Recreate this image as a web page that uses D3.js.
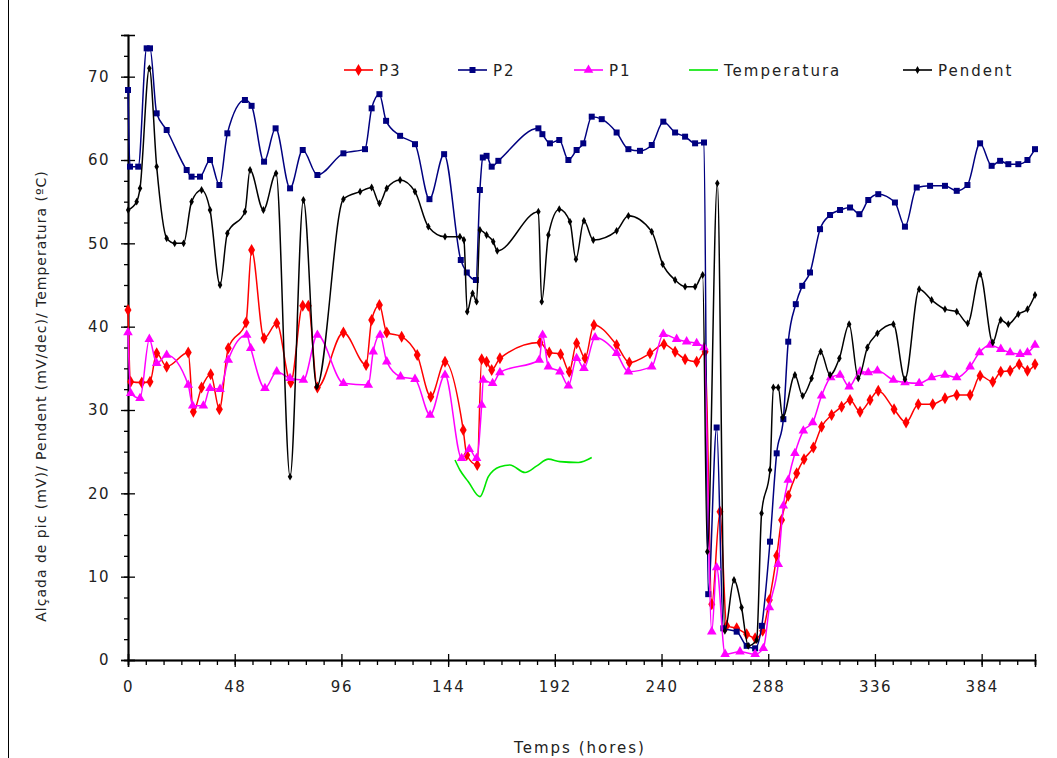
<!DOCTYPE html>
<html>
<head>
<meta charset="utf-8">
<script src="https://cdn.jsdelivr.net/npm/d3@7"></script>
<style>
body { margin: 0; background: #fff; }
svg text { font-family: "DejaVu Sans", Verdana, sans-serif; fill: #222; }
</style>
</head>
<body>
<svg id="chart"></svg>
<script>
var width = 1057;
var height = 758;
var margins = { left: 128, right: 22, top: 35, bottom: 98 };

// hours and values for each series
var p3Time = [0,1.2,6.2,9.9,12.9,17.4,27.1,29.4,33.1,37.2,41.1,45.1,53.1,55.6,61.2,66.9,73.2,78.6,81.1,85.2,96.9,107.1,109.6,113.1,116.4,123.1,130.1,136.2,142.6,150.8,152.4,157.1,159.1,161.3,163.6,167.3,185.3,189.5,194.6,198.5,201.8,205.6,209.6,219.8,225.5,234.8,241.1,246.1,250.6,255.8,259.6,262.6,266.3,269.3,273.8,278.3,282.1,285.5,288.5,291.8,294.0,297.0,300.8,304.1,308.3,312.0,316.5,321.0,324.8,329.3,333.8,337.5,344.6,350.0,355.5,362.0,367.5,372.8,378.8,383.3,389.0,392.6,396.8,400.9,404.6,408];
var p3Val = [42.0,33.4,33.3,33.4,36.8,35.2,36.9,29.8,32.7,34.3,30.1,37.4,40.5,49.2,38.6,40.4,33.3,42.5,42.5,32.7,39.3,35.4,40.8,42.6,39.3,38.8,36.6,31.6,35.8,27.6,24.6,23.4,36.1,35.8,34.8,36.2,38.1,36.9,36.7,34.6,38.0,36.2,40.2,37.8,35.7,36.8,37.9,37.0,36.1,35.8,37.0,6.7,17.8,4.1,3.8,3.1,2.6,3.5,7.2,12.5,16.8,19.7,22.4,24.1,25.5,28.0,29.4,30.4,31.2,29.8,31.2,32.3,30.1,28.5,30.7,30.7,31.4,31.8,31.8,34.1,33.4,34.6,34.7,35.5,34.7,35.5];

var p2Time = [0,0.9,4.6,8.4,9.9,12.9,17.4,26.4,28.6,32.4,36.9,41.1,44.7,52.6,55.6,61.2,66.4,72.9,78.6,85.2,96.9,106.6,109.6,113.1,116.1,122.4,129.1,135.6,142.2,149.7,152.4,156.5,158.3,159.6,161.3,163.6,166.6,184.6,186.4,189.8,194.0,198.1,201.8,204.8,208.6,213.1,219.8,225.1,230.3,235.6,240.8,246.1,250.6,255.1,259.1,261.0,264.8,267.8,273.8,278.3,282.1,285.1,288.8,291.8,294.8,297.0,300.4,303.3,306.8,311.3,315.8,320.3,324.8,329.0,333.0,337.5,345.0,349.5,354.8,360.8,367.5,372.8,377.6,383.3,388.5,392.3,396.0,400.5,404.6,408];
var p2Val = [68.4,59.2,59.2,73.4,73.4,65.6,63.6,58.8,58.0,58.0,60.0,57.0,63.2,67.2,66.5,59.8,63.8,56.6,61.2,58.2,60.8,61.3,66.2,67.9,64.7,62.9,61.9,55.3,60.7,48.0,46.5,45.6,56.4,60.3,60.5,59.2,59.9,63.8,63.1,62.0,62.4,60.0,61.2,62.0,65.2,64.9,63.3,61.3,61.1,61.8,64.6,63.3,62.8,62.0,62.1,7.9,27.9,3.8,3.4,1.7,1.4,4.1,14.2,24.8,28.9,38.2,42.7,44.9,46.5,51.7,53.4,54.0,54.3,53.5,55.2,55.9,54.9,52.0,56.7,56.9,56.9,56.3,57.0,62.0,59.3,59.9,59.5,59.5,60.0,61.3];

var p1Time = [0,1.2,5.4,9.6,12.9,17.4,27.1,29.1,33.9,36.9,41.4,45.1,53.4,55.2,61.6,66.9,72.9,78.9,85.2,96.9,108.1,110.3,113.4,116.4,122.6,129.1,135.9,142.6,150.1,153.5,156.8,159.1,159.8,164.0,167.3,185.0,186.5,189.1,194.3,198.1,201.8,205.1,210.1,219.8,225.1,235.6,240.8,246.8,251.3,255.8,259.1,262.6,264.8,268.6,275.3,282.1,285.8,288.5,292.5,294.8,297.0,300.0,303.8,308.0,312.0,316.1,320.3,324.4,329.3,333.0,337.1,344.3,349.5,355.9,361.5,367.5,372.8,378.8,383.0,387.8,392.6,396.8,401.3,404.6,408];
var p1Val = [39.3,32.0,31.4,38.5,35.6,36.6,33.0,30.5,30.5,32.6,32.5,36.0,39.0,37.4,32.6,34.6,33.8,33.6,39.0,33.2,33.0,37.0,39.0,35.8,34.0,33.7,29.4,34.2,24.2,25.3,24.2,30.6,33.6,33.2,34.5,36.0,39.0,35.2,34.6,32.9,36.2,35.0,38.7,36.8,34.6,35.2,39.1,38.5,38.2,38.0,37.5,3.4,11.1,0.7,1.0,0.7,1.4,6.3,11.5,18.5,21.6,24.8,27.5,28.5,31.7,33.9,34.2,32.8,34.6,34.5,34.7,33.6,33.3,33.2,33.9,34.2,33.9,35.2,36.9,37.8,37.3,36.9,36.7,36.9,37.8];

var tempTime = [147.1,149.3,153.1,158.3,162.1,167.3,171.8,178.6,183.9,189.1,194.3,202.6,208.6];
var tempVal = [24.0,22.8,21.4,19.6,22.0,23.2,23.4,22.5,23.3,24.1,23.8,23.7,24.3];

var pendTime = [0.1,3.9,5.4,9.6,12.9,17.4,21,25,28.6,33.1,36.9,41.4,44.7,52.6,54.9,60.9,66.6,72.9,78.9,84.9,96.9,104.4,109.6,113.1,116.4,122.4,129.1,135.1,142.6,149.3,151.1,152.6,155.0,156.8,158.3,161.3,164.3,166.1,184.6,186.1,189.1,194.0,198.8,201.5,205.1,209.3,219.8,225.1,235.6,240.5,246.1,250.6,255.1,258.5,260.6,265.1,268.5,272.6,276.0,279.0,282.8,285.0,288.8,290.3,292.5,294.5,300.0,303.5,307.5,311.6,315.8,320.0,324.4,328.5,332.6,337.1,344.3,349.5,355.9,361.5,367.5,372.8,377.7,383.3,389.0,392.6,396.0,400.5,404.6,408];
var pendVal = [54.0,55.0,56.6,71.0,59.2,50.6,50.0,50.0,55.0,56.4,54.0,45.0,51.2,53.8,58.8,54.0,58.4,22.0,55.2,32.8,55.3,56.2,56.7,54.8,56.6,57.6,56.2,52.0,50.8,50.8,50.4,41.8,44.0,43.0,51.6,51.0,50.2,49.1,53.8,43.0,51.0,54.1,52.6,48.1,52.7,50.4,51.5,53.3,51.4,47.5,45.6,44.8,44.8,46.2,13.0,57.2,3.5,9.6,6.3,1.7,2.4,17.6,22.8,32.7,32.7,29.1,34.2,31.7,33.8,37.0,34.2,36.2,40.3,33.8,37.5,39.2,40.3,33.7,44.5,43.2,42.1,41.8,40.4,46.3,38.1,40.8,40.3,41.5,42.1,43.8];

var seriesNames = ["P3", "P2", "P1", "Temperatura", "Pendent"];
var xTicks = [0, 48, 96, 144, 192, 240, 288, 336, 384];
var yTicks = [0, 10, 20, 30, 40, 50, 60, 70];

var series = [
    { name: "P3", time: p3Time, val: p3Val, color: "#ff0000", symbol: d3.symbolDiamond, size: 42 },
    { name: "P2", time: p2Time, val: p2Val, color: "#000080", symbol: d3.symbolSquare, size: 36 },
    { name: "P1", time: p1Time, val: p1Val, color: "#ff00ff", symbol: d3.symbolTriangle, size: 40 },
    { name: "Temperatura", time: tempTime, val: tempVal, color: "#00e600", symbol: null, size: 0 },
    { name: "Pendent", time: pendTime, val: pendVal, color: "#000000", symbol: d3.symbolDiamond, size: 18 }
];

var xscale = d3.scaleLinear()
                .domain([0, 408])
                .range([margins.left, width - margins.right]);
var yscale = d3.scaleLinear()
                .domain([0, 75])
                .range([height - margins.bottom, margins.top]);

var svg = d3.select("svg")
            .attr("width", width)
            .attr("height", height);

svg.append("rect").attr("width", width).attr("height", height).attr("fill", "#fff");

// the frame line down the left side
svg.append("line")
    .attr("x1", 8.5).attr("x2", 8.5)
    .attr("y1", 0).attr("y2", height)
    .attr("stroke", "#000");

var y0 = yscale(0);
var x0 = xscale(0);

// minor ticks
svg.append("g")
    .attr("transform", "translate(" + x0 + ",0)")
    .call(d3.axisLeft(yscale).tickValues(d3.range(0, 75.1, 2.5)).tickSize(4).tickFormat(""));
svg.append("g")
    .attr("transform", "translate(0," + y0 + ")")
    .call(d3.axisBottom(xscale).tickValues(d3.range(0, 408.1, 8)).tickSize(5).tickFormat(""));

// major ticks crossing the axes
var yaxis = svg.append("g")
    .attr("transform", "translate(" + x0 + ",0)")
    .call(d3.axisLeft(yscale).tickValues(yTicks).tickSize(7).tickPadding(11));
svg.append("g")
    .attr("transform", "translate(" + x0 + ",0)")
    .call(d3.axisLeft(yscale).tickValues(yTicks).tickSize(-7).tickFormat(""));
var xaxis = svg.append("g")
    .attr("transform", "translate(0," + y0 + ")")
    .call(d3.axisBottom(xscale).tickValues(xTicks).tickSize(7).tickPadding(14));
svg.append("g")
    .attr("transform", "translate(0," + y0 + ")")
    .call(d3.axisBottom(xscale).tickValues(xTicks).tickSize(-6).tickFormat(""));

svg.selectAll(".domain").attr("stroke", "#000").attr("stroke-width", 1.5);
svg.selectAll(".tick line").attr("stroke", "#000").attr("stroke-width", 1.3);
svg.selectAll(".tick text")
    .style("font-family", "'DejaVu Sans', Verdana, sans-serif")
    .style("font-size", "15px")
    .style("letter-spacing", "1.5px")
    .attr("fill", "#222");

var line = d3.line()
    .x(function(d){ return xscale(d[0]); })
    .y(function(d){ return yscale(d[1]); })
    .curve(d3.curveMonotoneX);

series.forEach(function(s){
    var pts = s.time.map(function(t, i){ return [t, s.val[i]]; });
    svg.append("path")
        .datum(pts)
        .attr("fill", "none")
        .attr("stroke", s.color)
        .attr("stroke-width", s.name === "Temperatura" ? 1.6 : 1.5)
        .attr("d", line);
    if (s.symbol) {
        svg.append("g").selectAll("path")
            .data(pts)
            .enter().append("path")
            .attr("d", d3.symbol().type(s.symbol).size(s.size))
            .attr("transform", function(d){ return "translate(" + xscale(d[0]) + "," + yscale(d[1]) + ")"; })
            .attr("fill", s.color);
    }
});

// legend
var legendX = [344, 458, 574, 689, 903];
var legend = svg.append("g");
series.forEach(function(s, i){
    var g = legend.append("g").attr("transform", "translate(" + legendX[i] + ",70)");
    g.append("line").attr("x1", 0).attr("x2", 29).attr("stroke", s.color).attr("stroke-width", 1.6);
    if (s.symbol) {
        g.append("path")
            .attr("d", d3.symbol().type(s.symbol).size(s.size))
            .attr("transform", "translate(14.5,0)")
            .attr("fill", s.color);
    }
    g.append("text")
        .attr("x", 35).attr("y", 5.5)
        .style("font-size", "15px")
        .style("letter-spacing", "2px")
        .text(seriesNames[i]);
});

svg.append("text")
    .attr("x", 580).attr("y", 753)
    .attr("text-anchor", "middle")
    .style("font-size", "15px")
    .style("letter-spacing", "2px")
    .text("Temps (hores)");

svg.append("text")
    .attr("transform", "translate(46,396) rotate(-90)")
    .attr("text-anchor", "middle")
    .style("font-size", "14px")
    .style("letter-spacing", "1px")
    .text("Alçada de pic (mV)/ Pendent (mV/dec)/ Temperatura (ºC)");
</script>
</body>
</html>
